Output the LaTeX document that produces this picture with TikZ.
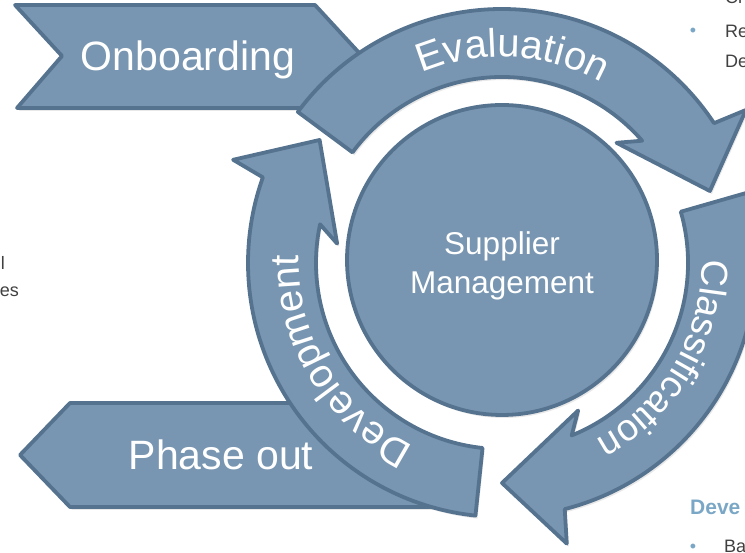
\documentclass[tikz,border=0pt]{standalone}
\usepackage{fontspec}
\setmainfont{Liberation Sans}
\usetikzlibrary{decorations.text,shadows}
\definecolor{boxfill}{HTML}{7896B1}
\definecolor{boxline}{HTML}{55738F}
\definecolor{bodytext}{HTML}{404040}
\definecolor{accentblue}{HTML}{7BA7C6}
\newcommand\bigfont{\fontsize{41}{49}\selectfont}
\newcommand\midfont{\fontsize{31.5}{39}\selectfont}
\newcommand\arcfont{\fontsize{40}{40}\selectfont}
\newcommand\arcfontb{\fontsize{37.5}{40}\selectfont}
\newcommand\smallfont{\fontsize{18}{22}\selectfont}
\newcommand\headfont{\fontsize{21}{25}\selectfont\bfseries}
\tikzset{
  shapebox/.style={fill=boxfill, draw=boxline, line width=3.8pt, line join=round,
    drop shadow={opacity=0.18, shadow xshift=2pt, shadow yshift=-3pt}},
  whitetext/.style={text=white, inner sep=0pt},
  arctext/.style={decorate, decoration={text along path, text align=center, text color=white}},
  fragment/.style={inner sep=0pt, font=\smallfont, text=bodytext},
  bulletdot/.style={inner sep=0pt, font=\smallfont, text=accentblue}
}
\begin{document}
\begin{tikzpicture}[x=1pt, y=1pt]
\useasboundingbox (0,0) rectangle (745,553);
\clip (0,0) rectangle (745,553);
% Onboarding chevron
\path[shapebox] (15,548) -- (315,548) -- (362,497) -- (315,445) -- (17,445) -- (62,497) -- cycle;
\node[whitetext, font=\bigfont] (onb) at (188,493) {Onboarding};
% Phase out pentagon
\path[shapebox] (20,98) -- (70,150) -- (360,150) -- (440,46) -- (70,46) -- cycle;
\node[whitetext, font=\bigfont] (phase) at (221,98) {Phase out};
% central circle
\node[circle, shapebox, minimum size=310pt, inner sep=0pt] (core) at (502,293) {};
\node[whitetext, font=\midfont, align=center] (coretext) at (502,287) {Supplier\\Management};
% ring arrows
\begin{scope}[shift={(502,290)}]
  \path[shapebox] (143.5:254) arc[start angle=143.5, end angle=33.4, radius=254]
    -- (32.1:288) -- (19.1:220) -- (46.4:166) -- (41.1:186)
    arc[start angle=41.1, end angle=143.5, radius=186] -- cycle;
  \path[shapebox] (16:254) arc[start angle=16, end angle=-75.7, radius=254]
    -- (-77:288) -- (-90:220) -- (-62.7:166) -- (-68:186)
    arc[start angle=-68, end angle=16, radius=186] -- cycle;
  \path[shapebox] (264:254) arc[start angle=264, end angle=160.3, radius=254]
    -- (159:288) -- (146:220) -- (173.3:166) -- (168:186)
    arc[start angle=168, end angle=264, radius=186] -- cycle;
  \path[arctext, decoration={text={|\arcfont|Evaluation}}] (147:206) arc[start angle=147, end angle=27, radius=206];
  \path[arctext, decoration={text={|\arcfontb|Classification}}] (29.5:200) arc[start angle=29.5, end angle=-90.5, radius=200];
  \path[arctext, decoration={text={|\arcfont|Development}}] (271:203) arc[start angle=271, end angle=151, radius=203];
\end{scope}
% cut-off text fragments at the edges
\node[fragment, anchor=base west] (fcr) at (725,549) {Cr};
\node[bulletdot] (b1) at (693,521) {•};
\node[fragment, anchor=base west] (fre) at (725,515) {Re};
\node[fragment, anchor=base west] (fde) at (725,485) {De};
\node[fragment, anchor=base east] (fl) at (5,283) {l};
\node[fragment, anchor=base east] (fes) at (19,256) {es};
\node[inner sep=0pt, font=\headfont, text=accentblue, anchor=base west] (fdev) at (690,38) {Deve};
\node[bulletdot] (b2) at (693,5) {•};
\node[fragment, anchor=base west] (fba) at (724,0) {Ba};
\end{tikzpicture}
\end{document}
